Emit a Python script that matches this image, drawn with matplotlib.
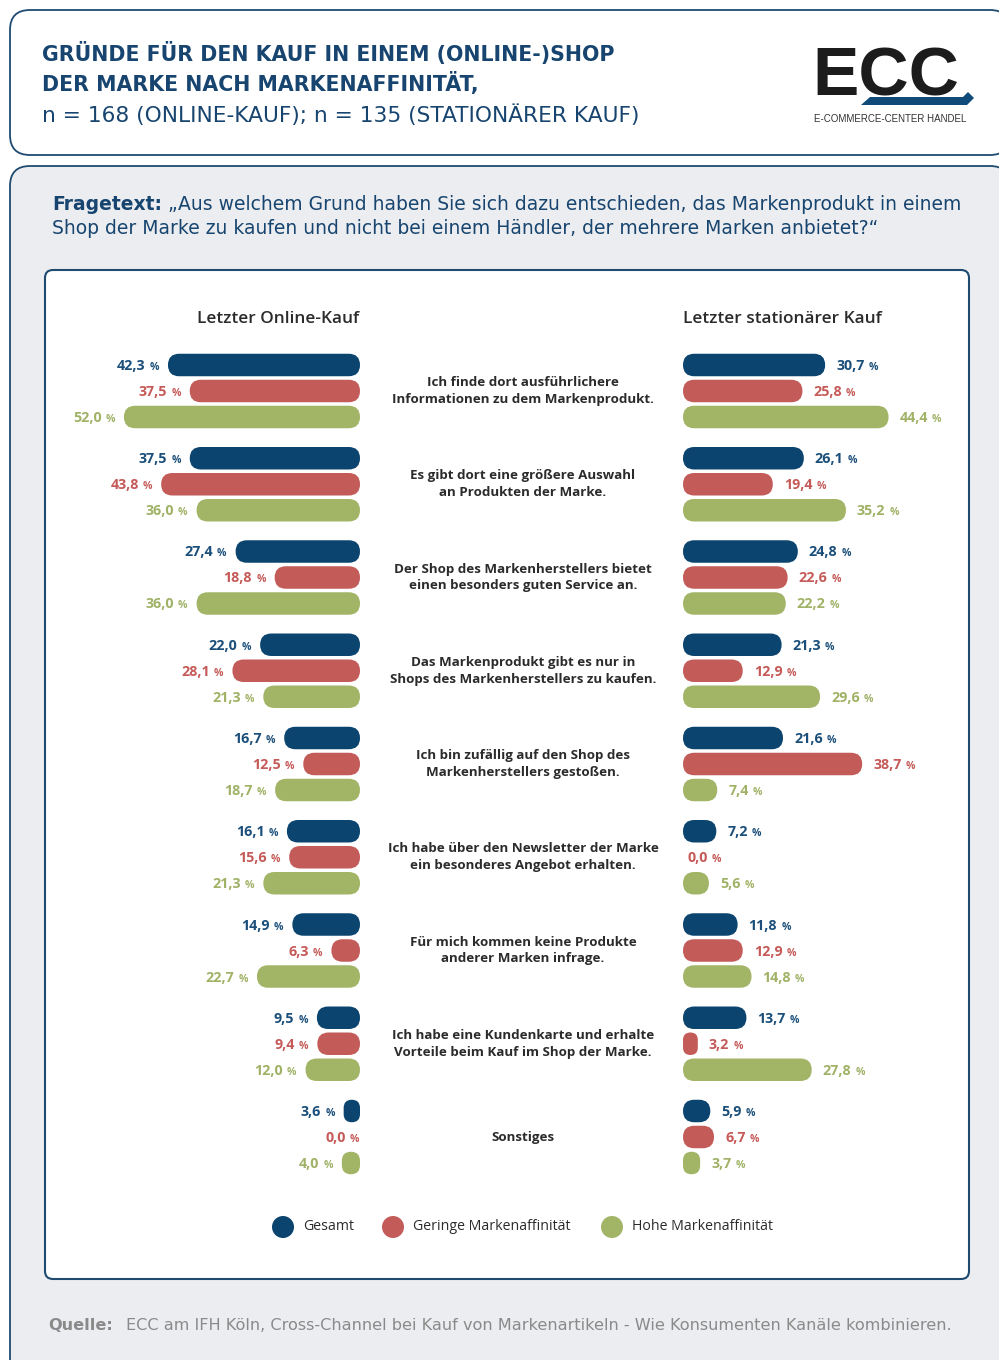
import matplotlib
matplotlib.use("Agg")
import matplotlib.pyplot as plt
from matplotlib.patches import FancyBboxPatch, Circle, Polygon
from matplotlib import font_manager

# ---------------- data ----------------
categories = [
    "Ich finde dort ausführlichere\nInformationen zu dem Markenprodukt.",
    "Es gibt dort eine größere Auswahl\nan Produkten der Marke.",
    "Der Shop des Markenherstellers bietet\neinen besonders guten Service an.",
    "Das Markenprodukt gibt es nur in\nShops des Markenherstellers zu kaufen.",
    "Ich bin zufällig auf den Shop des\nMarkenherstellers gestoßen.",
    "Ich habe über den Newsletter der Marke\nein besonderes Angebot erhalten.",
    "Für mich kommen keine Produkte\nanderer Marken infrage.",
    "Ich habe eine Kundenkarte und erhalte\nVorteile beim Kauf im Shop der Marke.",
    "Sonstiges",
]
series_names = ["Gesamt", "Geringe Markenaffinität", "Hohe Markenaffinität"]
online_gesamt = [42.3, 37.5, 27.4, 22.0, 16.7, 16.1, 14.9, 9.5, 3.6]
online_gering = [37.5, 43.8, 18.8, 28.1, 12.5, 15.6, 6.3, 9.4, 0.0]
online_hoch = [52.0, 36.0, 36.0, 21.3, 18.7, 21.3, 22.7, 12.0, 4.0]
stat_gesamt = [30.7, 26.1, 24.8, 21.3, 21.6, 7.2, 11.8, 13.7, 5.9]
stat_gering = [25.8, 19.4, 22.6, 12.9, 38.7, 0.0, 12.9, 3.2, 6.7]
stat_hoch = [44.4, 35.2, 22.2, 29.6, 7.4, 5.6, 14.8, 27.8, 3.7]
panel_titles = ["Letzter Online-Kauf", "Letzter stationärer Kauf"]

# ---------------- style ----------------
avail = {f.name for f in font_manager.fontManager.ttflist}
BODY = "Open Sans" if "Open Sans" in avail else "DejaVu Sans"
HEAD = "DejaVu Sans"
LOGO = "Liberation Sans"

BLUE = "#0B446E"
RED = "#C35B59"
GREEN = "#A2B567"
TXT_BLUE = "#1B4F7A"
TXT_RED = "#C55A58"
TXT_GREEN = "#A0B266"
DARK = "#2B2B2B"
FRAME = "#1F4B71"
TITLE_C = "#17456F"

W, H = 999, 1360
fig = plt.figure(figsize=(W / 100, H / 100), dpi=100)
fig.patch.set_facecolor("white")

bg = fig.add_axes([0, 0, 1, 1])
bg.set_xlim(0, W)
bg.set_ylim(H, 0)
bg.axis("off")


def box(x, y, w, h, r, fc, ec, lw):
    bg.add_patch(FancyBboxPatch((x, y), w, h,
                                boxstyle=f"round,pad=0,rounding_size={r}",
                                fc=fc, ec=ec, lw=lw))


box(10, 10, 1000, 145, 20, "white", FRAME, 1.3)
box(10, 166, 1000, 1230, 20, "#ECEDF0", FRAME, 1.3)
box(45, 270, 924, 1009, 8, "white", FRAME, 1.5)

# header texts
bg.text(42, 53, "GRÜNDE FÜR DEN KAUF IN EINEM (ONLINE-)SHOP", fontsize=14.8,
        fontweight="bold", color=TITLE_C, family=HEAD, va="center")
bg.text(42, 84, "DER MARKE NACH MARKENAFFINITÄT,", fontsize=14.8,
        fontweight="bold", color=TITLE_C, family=HEAD, va="center")
bg.text(42, 115, "n = 168 (ONLINE-KAUF); n = 135 (STATIONÄRER KAUF)", fontsize=15.7,
        color=TITLE_C, family=HEAD, va="center")

# logo
bg.text(812, 95, "ECC", fontsize=50, fontweight="bold", color="#1C1C1C",
        family=LOGO, va="baseline", ha="left")
bg.add_patch(Polygon([(861, 105), (870, 97), (963, 97), (968, 92), (974, 98), (967, 105)],
                     closed=True, fc="#0F4A78", ec="none"))
bg.text(890, 119, "E-COMMERCE-CENTER HANDEL", fontsize=7.0, color="#333333",
        family=LOGO, ha="center", va="center")

# question text
t1 = bg.text(52, 205, "Fragetext:", fontsize=13.5, fontweight="bold",
             color=TITLE_C, family=HEAD, va="center")
bg.annotate(" „Aus welchem Grund haben Sie sich dazu entschieden, das Markenprodukt in einem",
            xy=(1, 0.5), xycoords=t1, va="center", ha="left", fontsize=13.5,
            color=TITLE_C, family=HEAD)
bg.text(52, 229, "Shop der Marke zu kaufen und nicht bei einem Händler, der mehrere Marken anbietet?“",
        fontsize=13.5, color=TITLE_C, family=HEAD, va="center")

# footer
bg.text(48, 1326, "Quelle:", fontsize=11.6, fontweight="bold", color="#8A8A8A",
        family=HEAD, va="center")
bg.text(126, 1326, "ECC am IFH Köln, Cross-Channel bei Kauf von Markenartikeln - Wie Konsumenten Kanäle kombinieren.",
        fontsize=11.6, color="#8A8A8A", family=HEAD, va="center")

# ---------------- bar panels ----------------
GROUP_PX = 93.25
ROW_PX = 26.0
BAR_PX = 22.5
TOP_PX, BOT_PX = 340, 1190
FIRST_CENTER_PX = 391


def px_axes(x0, x1, y0, y1):
    return fig.add_axes([x0 / W, 1 - y1 / H, (x1 - x0) / W, (y1 - y0) / H])


offsets = [-ROW_PX / GROUP_PX, 0.0, ROW_PX / GROUP_PX]
bar_h = BAR_PX / GROUP_PX
ylim = ((BOT_PX - FIRST_CENTER_PX) / GROUP_PX, (TOP_PX - FIRST_CENTER_PX) / GROUP_PX)


def fmt(v):
    return f"{v:.1f}".replace(".", ",")


def panel(x0, x1, px_per_unit, series, side):
    ax = px_axes(x0, x1, TOP_PX, BOT_PX)
    span = (x1 - x0) / px_per_unit
    ax.set_xlim((span, 0) if side == "left" else (0, span))
    ax.set_ylim(*ylim)
    ax.axis("off")
    mut = px_per_unit / GROUP_PX
    r_full = (BAR_PX / 2) / px_per_unit
    colors = [BLUE, RED, GREEN]
    tcolors = [TXT_BLUE, TXT_RED, TXT_GREEN]
    for j, vals in enumerate(series):
        for k, v in enumerate(vals):
            yc = k + offsets[j]
            if v > 0:
                r = min(r_full, v / 2)
                ax.add_patch(FancyBboxPatch((0, yc - bar_h / 2), v, bar_h,
                                            boxstyle=f"round,pad=0,rounding_size={r}",
                                            mutation_aspect=mut, fc=colors[j], ec="none"))
            if side == "left":
                gap = 9 if v > 0 else 1
                pct = ax.annotate("%", xy=(v, yc), xytext=(-gap, -5), textcoords="offset pixels",
                                  ha="right", va="baseline", fontsize=7.5, fontweight="bold",
                                  color=tcolors[j], family=BODY)
                ax.annotate(fmt(v), xy=(0, 0), xycoords=pct, xytext=(-4, 0),
                            textcoords="offset pixels", ha="right", va="bottom",
                            fontsize=10.3, fontweight="bold", color=tcolors[j], family=BODY)
            else:
                gap = 11 if v > 0 else 4
                num = ax.annotate(fmt(v), xy=(v, yc), xytext=(gap, -5), textcoords="offset pixels",
                                  ha="left", va="baseline", fontsize=10.3, fontweight="bold",
                                  color=tcolors[j], family=BODY)
                ax.annotate("%", xy=(1, 0), xycoords=num, xytext=(4, 0),
                            textcoords="offset pixels", ha="left", va="bottom",
                            fontsize=7.5, fontweight="bold", color=tcolors[j], family=BODY)
    return ax


panel(50, 360, 4.54, [online_gesamt, online_gering, online_hoch], "left")
panel(683, 968, 4.63, [stat_gesamt, stat_gering, stat_hoch], "right")

# category labels (centered between panels)
for k, cat in enumerate(categories):
    yc = FIRST_CENTER_PX + k * GROUP_PX
    bg.text(523, yc, cat, ha="center", va="center", fontsize=9.6, fontweight="bold",
            color=DARK, family=BODY, linespacing=1.38)

# panel titles
bg.text(278, 319, panel_titles[0], ha="center", va="center", fontsize=12.4,
        fontweight="semibold", color=DARK, family=BODY)
bg.text(782, 319, panel_titles[1], ha="center", va="center", fontsize=12.4,
        fontweight="semibold", color=DARK, family=BODY)

# legend
leg_x = [283, 393, 612]
for x, name, c in zip(leg_x, series_names, [BLUE, RED, GREEN]):
    bg.add_patch(Circle((x, 1227), 11, fc=c, ec="none"))
    bg.text(x + 20, 1227, name, ha="left", va="center", fontsize=10.2, color=DARK, family=BODY)

fig.savefig("out.png", dpi=100, facecolor="white")
